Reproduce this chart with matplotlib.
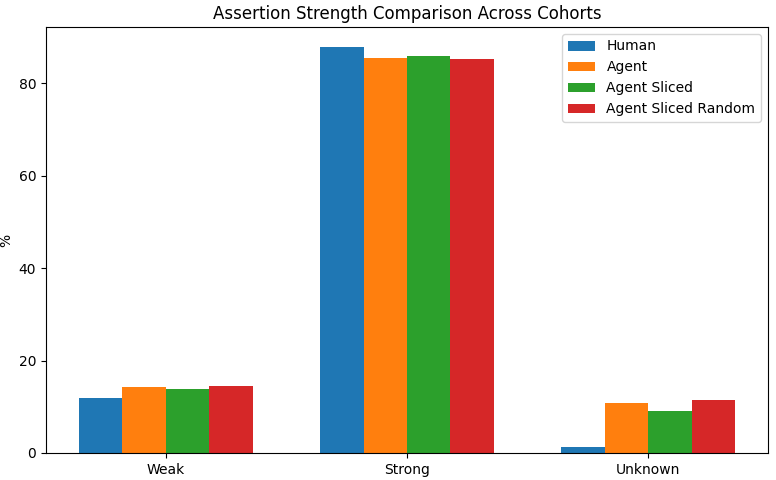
import numpy as np
import matplotlib
matplotlib.use("Agg")
import matplotlib.pyplot as plt

categories = ["Weak", "Strong", "Unknown"]
human = [11.9, 87.8, 1.3]
agent = [14.3, 85.4, 10.8]
agent_sliced = [13.9, 85.9, 9.0]
agent_sliced_random = [14.5, 85.2, 11.5]

series = [("Human", human), ("Agent", agent),
          ("Agent Sliced", agent_sliced), ("Agent Sliced Random", agent_sliced_random)]

fig, ax = plt.subplots(figsize=(7.76, 4.8), dpi=100)
x = np.arange(len(categories))
width = 0.18
for i, (name, vals) in enumerate(series):
    ax.bar(x + (i - 1.5) * width, vals, width, label=name)

ax.set_xticks(x)
ax.set_xticklabels(categories)
ax.set_ylabel("%")
ax.set_title("Assertion Strength Comparison Across Cohorts")
ax.legend(loc="upper right")
fig.subplots_adjust(left=46/776, right=768/776, top=1-27/480, bottom=1-453/480)
fig.savefig("out.png")
